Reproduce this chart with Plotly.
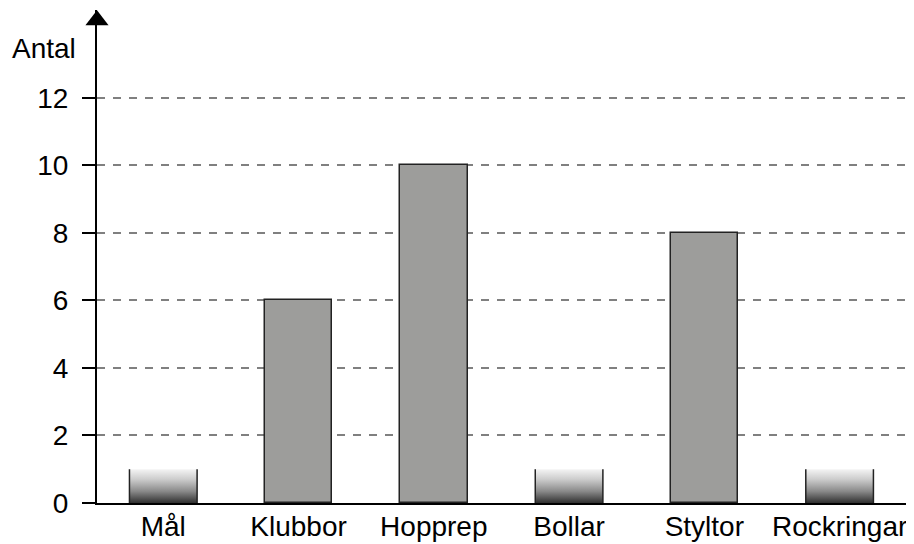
import plotly.graph_objects as go

categories = ["Mål", "Klubbor", "Hopprep", "Bollar", "Styltor", "Rockringar"]
values = [None, 6, 10, None, 8, None]
unknown_height = 1
y_ticks = [0, 2, 4, 6, 8, 10, 12]
y_label = "Antal"

FONT = "Liberation Sans, Arial, Helvetica, sans-serif"
bar_w = 0.5
idx = list(range(len(categories)))

fig = go.Figure()

# known bars
kx = [i for i, v in zip(idx, values) if v is not None]
ky = [v for v in values if v is not None]
fig.add_trace(go.Bar(
    x=kx, y=ky, width=bar_w,
    marker=dict(color="#9d9d9b", line=dict(color="#222222", width=1.5)),
    hoverinfo="skip", showlegend=False,
))

# unknown bars: gradient fill, side lines only
side_x, side_y = [], []
for i, v in zip(idx, values):
    if v is None:
        x0, x1 = i - bar_w / 2, i + bar_w / 2
        fig.add_trace(go.Scatter(
            x=[x0, x0, x1, x1, x0], y=[0, unknown_height, unknown_height, 0, 0],
            mode="lines", fill="toself", line=dict(width=0),
            fillgradient=dict(type="vertical",
                              colorscale=[[0, "#303030"], [0.35, "#8a8a8a"], [0.7, "#cccccc"], [1, "#f4f4f4"]]),
            hoverinfo="skip", showlegend=False,
        ))
        side_x += [x0, x0, None, x1, x1, None]
        side_y += [0, unknown_height, None, 0, unknown_height, None]

fig.add_trace(go.Scatter(
    x=side_x, y=side_y, mode="lines",
    line=dict(color="#222222", width=1.5),
    hoverinfo="skip", showlegend=False,
))

# arrow head on y axis
fig.add_trace(go.Scatter(
    x=[-0.49], y=[14.3], mode="markers",
    marker=dict(symbol="triangle-up", size=20, color="black"),
    cliponaxis=False, hoverinfo="skip", showlegend=False,
))

fig.update_layout(
    width=906, height=536,
    margin=dict(l=89, r=0, t=2, b=41),
    paper_bgcolor="white", plot_bgcolor="white",
    font=dict(family=FONT, size=28, color="black"),
    bargap=0,
    xaxis=dict(
        range=[-0.49, 5.55], tickmode="array", tickvals=idx, ticktext=categories,
        showgrid=False, zeroline=False, showline=True, linecolor="black", linewidth=2,
        ticks="", ticklabelstandoff=-3, tickfont=dict(size=28), fixedrange=True,
    ),
    yaxis=dict(
        range=[0, 14.6], tickmode="array", tickvals=y_ticks,
        showgrid=True, gridcolor="#808080", gridwidth=1.5, griddash="8px,8px",
        zeroline=False, showline=True, linecolor="black", linewidth=2,
        ticks="outside", ticklen=13, tickwidth=2, tickcolor="black",
        ticklabelstandoff=8, tickfont=dict(size=28), fixedrange=True,
    ),
    annotations=[dict(
        text=y_label, xref="paper", yref="paper", x=-0.023, y=0.921,
        xanchor="right", yanchor="middle", showarrow=False,
        font=dict(family=FONT, size=28, color="black"),
    )],
)

fig.write_html("out.html")
